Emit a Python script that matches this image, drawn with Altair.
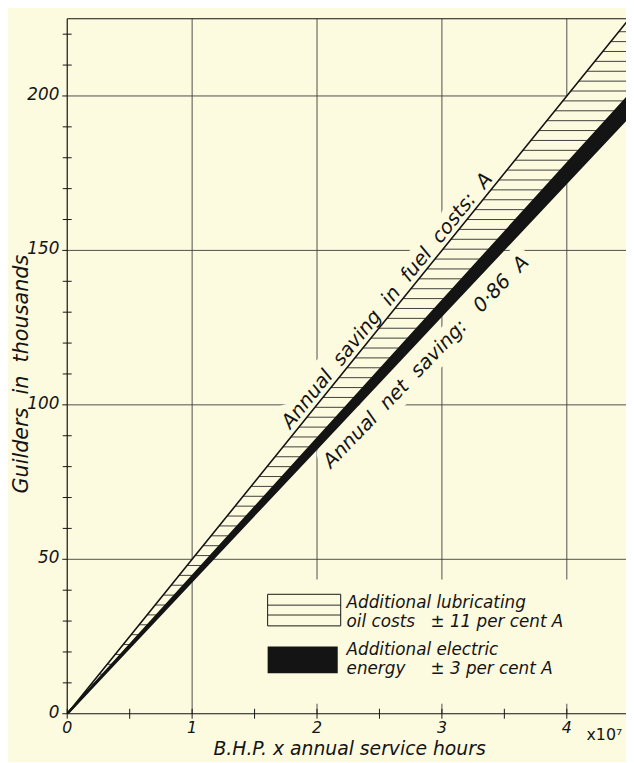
import altair as alt
import numpy as np
import pandas as pd

# ---------------- data ----------------
bhp_hours = [0, 1, 2, 3, 4, 4.5]                  # B.H.P. x annual service hours (x 10^7)
fuel_saving = [0, 50, 100, 150, 200, 225]         # A  (guilders, thousands)
after_lube = [0, 44.5, 89, 133.5, 178, 200.25]    # A minus lubricating oil costs (11 % A)
net_saving = [0, 43, 86, 129, 172, 193.5]         # 0.86 A  (after electric energy, 3 % A)
x_ticks = [0, 1, 2, 3, 4]
x_tick_labels = ["0", "1", "2", "3", "4"]
y_ticks = [0, 50, 100, 150, 200]
y_tick_labels = ["0", "50", "100", "150", "200"]
x_minor = [0.5, 1.5, 2.5, 3.5]
y_minor = [10, 20, 30, 40, 60, 70, 80, 90, 110, 120, 130, 140, 160, 170, 180, 190, 210, 220]
hatch_step = 3.2

# ---------------- style ----------------
BG = "#FCFADF"
INK = "#141414"
GRID = "#3c3c3c"
FONT = "DejaVu Sans"
NB = "\u00a0"
W, H = 566, 704
XMAX, YMAX = 4.474, 225

xs = alt.Scale(domain=[0, XMAX], nice=False, zero=False)
ys = alt.Scale(domain=[0, YMAX], nice=False, zero=False)


def X(f):
    return alt.X(f, scale=xs, axis=None)


def Y(f):
    return alt.Y(f, scale=ys, axis=None)


band = pd.DataFrame({"x": bhp_hours, "A": fuel_saving, "L": after_lube, "N": net_saving})
xt = pd.DataFrame({"v": x_ticks, "lab": x_tick_labels})
yt = pd.DataFrame({"v": y_ticks, "lab": y_tick_labels})

levels = np.arange(hatch_step, YMAX, hatch_step)
hatch = pd.DataFrame({
    "y": levels,
    "x1": np.interp(levels, fuel_saving, bhp_hours),
    "x2": np.interp(levels, after_lube, bhp_hours),
})
one = pd.DataFrame({"k": [0]})

# ---------------- grid / axes ----------------
grid_v = alt.Chart(xt[xt.v > 0]).mark_rule(color=GRID, strokeWidth=0.9).encode(
    x=X("v:Q"), y=alt.value(0), y2=alt.value(H))
grid_h = alt.Chart(yt[yt.v > 0]).mark_rule(color=GRID, strokeWidth=0.9).encode(
    y=Y("v:Q"), x=alt.value(0), x2=alt.value(W))

x_domain = alt.Chart(one).mark_rule(color=INK, strokeWidth=1.2).encode(
    x=alt.value(0), x2=alt.value(W), y=alt.value(H))
y_domain = alt.Chart(one).mark_rule(color=INK, strokeWidth=1.2).encode(
    y=alt.value(0), y2=alt.value(H), x=alt.value(0))
top_border = alt.Chart(one).mark_rule(color=INK, strokeWidth=1.1).encode(
    x=alt.value(0), x2=alt.value(W), y=alt.value(0))

x_major = alt.Chart(xt).mark_rule(color=INK, strokeWidth=1).encode(
    x=X("v:Q"), y=alt.value(H - 5), y2=alt.value(H + 5))
y_major = alt.Chart(yt).mark_rule(color=INK, strokeWidth=1).encode(
    y=Y("v:Q"), x=alt.value(-5), x2=alt.value(0))
xm = alt.Chart(pd.DataFrame({"x": x_minor})).mark_rule(color=INK, strokeWidth=1).encode(
    x=X("x:Q"), y=alt.value(H - 5), y2=alt.value(H + 5))
ym = alt.Chart(pd.DataFrame({"y": y_minor})).mark_rule(color=INK, strokeWidth=1).encode(
    y=Y("y:Q"), x=alt.value(-4.5), x2=alt.value(4.5))

x_labels = alt.Chart(xt).mark_text(
    align="center", baseline="middle", font=FONT, fontStyle="italic", size=16,
    fill=INK).encode(x=X("v:Q"), y=alt.value(H + 15), text="lab:N")
y_labels = alt.Chart(yt).mark_text(
    align="right", baseline="middle", font=FONT, fontStyle="italic", size=17,
    fill=INK, dy=-1).encode(y=Y("v:Q"), x=alt.value(-8), text="lab:N")


def txt(px, py, t, size=18, style="italic", align="left", baseline="alphabetic", angle=0):
    return alt.Chart(pd.DataFrame({"t": [t]})).mark_text(
        align=align, baseline=baseline, font=FONT, fontStyle=style, size=size,
        angle=angle, fill=INK).encode(x=alt.value(px), y=alt.value(py), text="t:N")


x_title = txt(286, H + 42, "B.H.P." + NB + "x" + NB + "annual service hours", size=19,
              align="center")
y_title = txt(-46, 360, "Guilders" + NB * 2 + "in" + NB * 2 + "thousands", size=21,
              align="center", baseline="middle", angle=270)
exp_text = txt(526, H + 27, "x10⁷", size=16, style="normal")

# ---------------- bands ----------------
hatch_fill = alt.Chart(band).mark_area(fill=BG, clip=True).encode(
    x=X("x:Q"), y=Y("A:Q"), y2="L:Q")

# legend knock-out area
knock = alt.Chart(one).mark_rect(fill=BG).encode(
    x=alt.value(187), x2=alt.value(W), y=alt.value(568), y2=alt.value(694))

fuel_text = "Annual" + NB * 2 + "saving" + NB * 2 + "in" + NB * 2 + "fuel" + NB * 2 + "costs:" + NB * 2 + "A"
net_text = "Annual" + NB * 2 + "net" + NB * 2 + "saving:" + NB * 3 + "0·86" + NB * 2 + "A"
fuel_df = pd.DataFrame({"x": [2.63], "y": [131.5], "t": [fuel_text]})
net_df = pd.DataFrame({"x": [2.76], "y": [118.3], "t": [net_text]})


def line_label(df, angle, baseline, dy, size, halo):
    kw = dict(angle=angle, align="center", baseline=baseline, dy=dy, font=FONT,
              fontStyle="italic", size=size)
    if halo:
        kw.update(fill=BG, stroke=BG, strokeWidth=18, strokeJoin="round")
    else:
        kw.update(fill=INK)
    return alt.Chart(df).mark_text(**kw).encode(x=X("x:Q"), y=Y("y:Q"), text="t:N")


fuel_halo = line_label(fuel_df, 309, "alphabetic", -5, 20, True)
net_halo = line_label(net_df, 314, "top", 10, 20, True)
fuel_lab = line_label(fuel_df, 309, "alphabetic", -5, 20, False)
net_lab = line_label(net_df, 314, "top", 10, 20, False)

hatch_lines = alt.Chart(hatch).mark_rule(color="#2a2a2a", strokeWidth=0.9, clip=True).encode(
    x=X("x1:Q"), x2="x2:Q", y=Y("y:Q"))

black = alt.Chart(band).mark_area(color=INK, clip=True).encode(
    x=X("x:Q"), y=Y("L:Q"), y2="N:Q")


def edge(field, width):
    return alt.Chart(band).mark_line(color=INK, strokeWidth=width, clip=True).encode(
        x=X("x:Q"), y=Y(field + ":Q"))


line_a = edge("A", 1.6)
line_l = edge("L", 2.4)
line_n = edge("N", 2.4)

# ---------------- legend ----------------
leg_hatch = alt.Chart(one).mark_rect(fill=BG, stroke=INK, strokeWidth=1).encode(
    x=alt.value(203), x2=alt.value(277), y=alt.value(583), y2=alt.value(615))
leg_hl1 = alt.Chart(one).mark_rule(color=INK, strokeWidth=0.9).encode(
    x=alt.value(203), x2=alt.value(277), y=alt.value(594))
leg_hl2 = alt.Chart(one).mark_rule(color=INK, strokeWidth=0.9).encode(
    x=alt.value(203), x2=alt.value(277), y=alt.value(604))
leg_black = alt.Chart(one).mark_rect(fill=INK).encode(
    x=alt.value(203), x2=alt.value(274), y=alt.value(636), y2=alt.value(663))

legend_lines = [
    (283, 597, "Additional lubricating"),
    (283, 616, "oil costs"),
    (368, 616, "± 11 per cent A"),
    (283, 645, "Additional electric"),
    (283, 664, "energy"),
    (368, 664, "± 3 per cent A"),
]
leg_texts = [txt(px, py, t, size=17) for px, py, t in legend_lines]

chart = alt.layer(
    grid_v, grid_h, knock, fuel_halo, net_halo, hatch_fill, hatch_lines, black,
    line_a, line_l, line_n, fuel_lab, net_lab,
    x_domain, y_domain, top_border, x_major, y_major, xm, ym, x_labels, y_labels,
    x_title, y_title, exp_text,
    leg_hatch, leg_hl1, leg_hl2, leg_black, *leg_texts,
).properties(
    width=W, height=H,
    autosize=alt.AutoSizeParams(type="none"),
    padding={"left": 60, "top": 6, "right": 0, "bottom": 44},
    background=BG,
).configure_view(stroke=None)

chart.save("out.html", embed_options={"renderer": "svg", "actions": False})
